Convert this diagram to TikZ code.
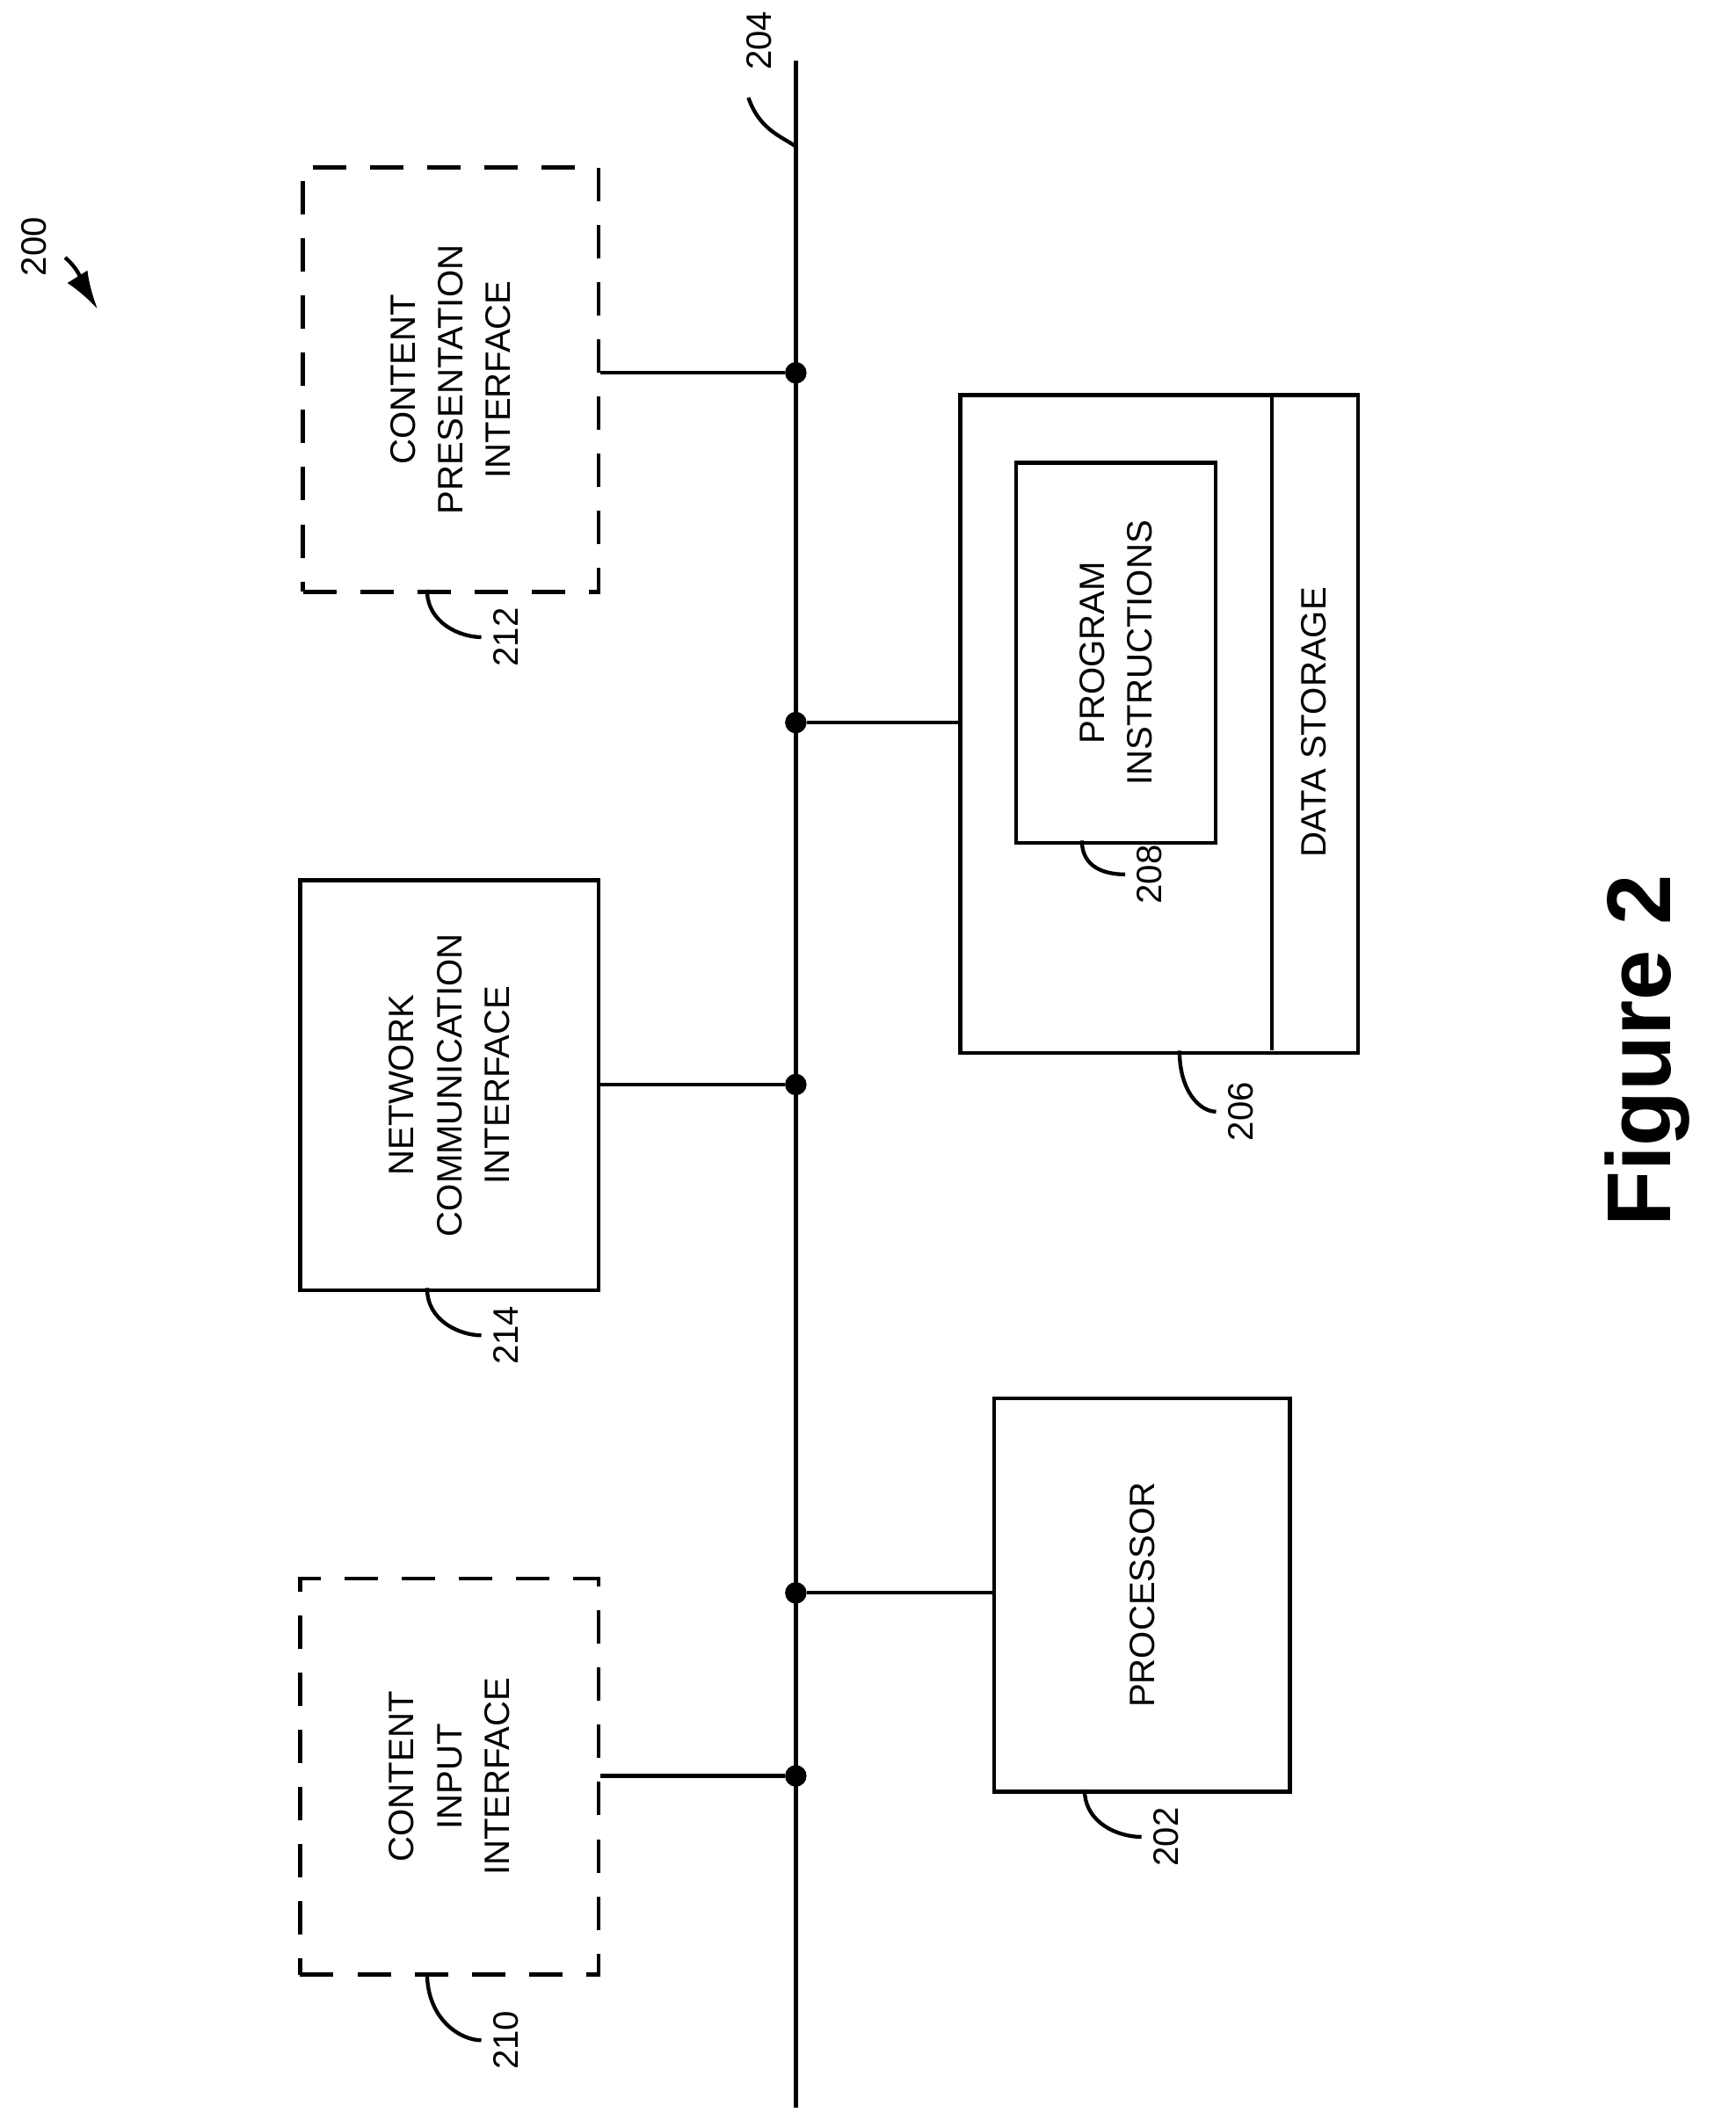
\documentclass[tikz,border=0pt]{standalone}
\usepackage{fontspec}
\setmainfont{Liberation Sans}
\usetikzlibrary{arrows.meta}
\begin{document}
\begin{tikzpicture}[x=0.01cm,y=-0.01cm,line width=0.8pt,
	box/.style={draw, rectangle, anchor=north west, inner sep=0pt},
	dbox/.style={box, dash pattern=on 7pt off 5pt},
	txt/.style={rotate=90, align=center, font=\fontsize{7.4}{10}\selectfont},
	lbl/.style={rotate=90, font=\fontsize{7.4}{9}\selectfont},
	dot/.style={circle, fill, draw, inner sep=0pt, minimum size=0.13cm}]
	\useasboundingbox (0,0) rectangle (1280,1569);
	% bus
	\coordinate (bt) at (587,45);
	\coordinate (bb) at (587,1555);
	\draw (bt) -- (bb);
	% boxes
	\node[dbox, minimum width=2.18cm, minimum height=3.13cm] (cpi) at (222,122) {};
	\node[txt] at (cpi.center) {CONTENT\\PRESENTATION\\INTERFACE};
	\node[box, minimum width=2.2cm, minimum height=3.02cm] (nci) at (220,648) {};
	\node[txt] at (nci.center) {NETWORK\\COMMUNICATION\\INTERFACE};
	\node[dbox, minimum width=2.2cm, minimum height=2.92cm] (cii) at (220,1163) {};
	\node[txt] at (cii.center) {CONTENT\\INPUT\\INTERFACE};
	\node[box, minimum width=2.18cm, minimum height=2.9cm] (proc) at (732,1030) {};
	\node[txt] at (proc.center) {PROCESSOR};
	\node[box, minimum width=2.93cm, minimum height=4.85cm] (ds) at (707,290) {};
	\draw (938,290) -- (938,775);
	\node[txt] at (969,533) {DATA STORAGE};
	\node[box, minimum width=1.47cm, minimum height=2.8cm] (pi) at (748,340) {};
	\node[txt] at (pi.center) {PROGRAM\\INSTRUCTIONS};
	% dots and connectors
	\node[dot] (d1) at (587,275) {};
	\node[dot] (d2) at (587,533) {};
	\node[dot] (d3) at (587,800) {};
	\node[dot] (d4) at (587,1175) {};
	\node[dot] (d5) at (587,1310) {};
	\draw (cpi.east |- d1) -- (d1);
	\draw (d2) -- (ds.west |- d2);
	\draw (nci.east |- d3) -- (d3);
	\draw (d4) -- (proc.west |- d4);
	\draw (cii.east |- d5) -- (d5);
	% reference numerals
	\node[lbl] (l204) at (560,30) {204};
	\draw (587,108) .. controls (575,100) and (560,95) .. (552,72);
	\node[lbl] (l212) at (373,470) {212};
	\draw (315,435) .. controls (315,460) and (340,470) .. (355,470);
	\node[lbl] (l214) at (373,985) {214};
	\draw (315,950) .. controls (315,975) and (340,985) .. (355,985);
	\node[lbl] (l210) at (373,1505) {210};
	\draw (315,1455) .. controls (315,1490) and (340,1505) .. (355,1505);
	\node[lbl] (l202) at (860,1355) {202};
	\draw (800,1320) .. controls (800,1345) and (825,1355) .. (842,1355);
	\node[lbl] (l206) at (915,820) {206};
	\draw (870,775) .. controls (870,805) and (885,820) .. (897,820);
	\node[lbl] (l208) at (848,645) {208};
	\draw (798,620) .. controls (798,640) and (815,645) .. (830,645);
	\node[lbl] (l200) at (25,182) {200};
	\coordinate (a200) at (72,228);
	\draw[-{Latex[length=8pt,width=5pt]}] (48,190) .. controls (60,200) and (62,212) .. (a200);
	% title
	\node[rotate=90, font=\bfseries\fontsize{19}{22}\selectfont] (fig) at (1215,775) {Figure 2};
\end{tikzpicture}
\end{document}
